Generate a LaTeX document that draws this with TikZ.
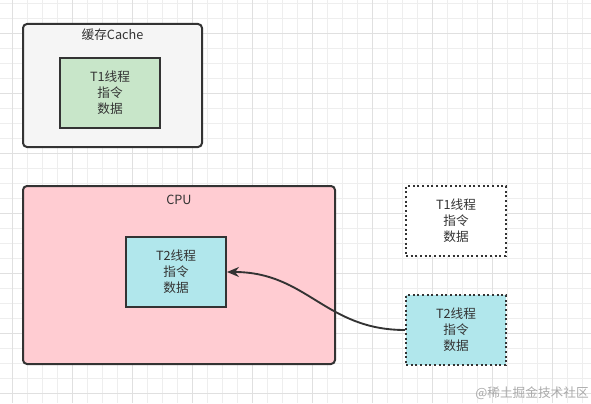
\documentclass[tikz,border=0pt]{standalone}
\usepackage{fontspec}
\setmainfont{Noto Sans CJK SC}
\usetikzlibrary{arrows.meta}

\definecolor{inkGray}{RGB}{51,51,51}
\definecolor{cacheGray}{RGB}{245,245,245}
\definecolor{threadGreen}{RGB}{200,230,201}
\definecolor{cpuPink}{RGB}{255,204,210}
\definecolor{threadCyan}{RGB}{177,231,236}

\begin{document}
\begin{tikzpicture}[x=0.75pt,y=0.75pt,yscale=-1,xscale=1,
  gridminor/.style={draw={rgb,255:red,238;green,238;blue,238},line width=0.6pt},
  gridmajor/.style={draw={rgb,255:red,224;green,224;blue,224},line width=0.6pt},
  outerbox/.style={draw=inkGray,line width=1.5pt,rounded corners=3pt},
  threadbox/.style={draw=inkGray,line width=1.5pt,minimum width=75pt,minimum height=52.5pt,
    align=center,text=inkGray,font=\fontsize{9.5pt}{12pt}\selectfont},
  ghostbox/.style={threadbox,dotted},
  boxtitle/.style={text=inkGray,font=\fontsize{9.5pt}{12pt}\selectfont,inner sep=0pt},
  flow/.style={draw=inkGray,line width=1.4pt,-{Stealth[length=9pt,width=7.5pt]}}]
\useasboundingbox (0,0) rectangle (591,403);
\fill[white] (0,0) rectangle (591,403);
% background grid
\foreach \gx in {12,27,...,590} \draw[gridminor] (\gx,0) -- (\gx,403);
\foreach \gy in {3,18,...,402} \draw[gridminor] (0,\gy) -- (591,\gy);
\foreach \gx in {12,72,...,590} \draw[gridmajor] (\gx,0) -- (\gx,403);
\foreach \gy in {33,93,...,402} \draw[gridmajor] (0,\gy) -- (591,\gy);

% cache
\node[outerbox,fill=cacheGray,minimum width=134.25pt,minimum height=92.25pt] (cache) at (112.5,85.5) {};
\node[boxtitle] (cacheTitle) at (112.5,35) {缓存Cache};
\node[threadbox,fill=threadGreen] (tOneCache) at (110,93) {T1线程\\指令\\数据};

% cpu
\node[outerbox,fill=cpuPink,minimum width=234pt,minimum height=133.5pt] (cpu) at (179,275) {};
\node[boxtitle] (cpuTitle) at (179,200) {CPU};
\node[threadbox,fill=threadCyan] (tTwoCpu) at (176,272) {T2线程\\指令\\数据};

% memory side
\node[ghostbox,fill=white] (tOneMem) at (456,221) {T1线程\\指令\\数据};
\node[ghostbox,fill=threadCyan] (tTwoMem) at (456,330) {T2线程\\指令\\数据};

\draw[flow] (tTwoMem.west) .. controls +(-80,0) and +(80,0) .. (tTwoCpu.east);

\node[anchor=east,inner sep=0pt,text={rgb,255:red,170;green,170;blue,170},font=\fontsize{9.5pt}{12pt}\selectfont] (mark) at (589,393) {@稀土掘金技术社区};
\end{tikzpicture}
\end{document}
